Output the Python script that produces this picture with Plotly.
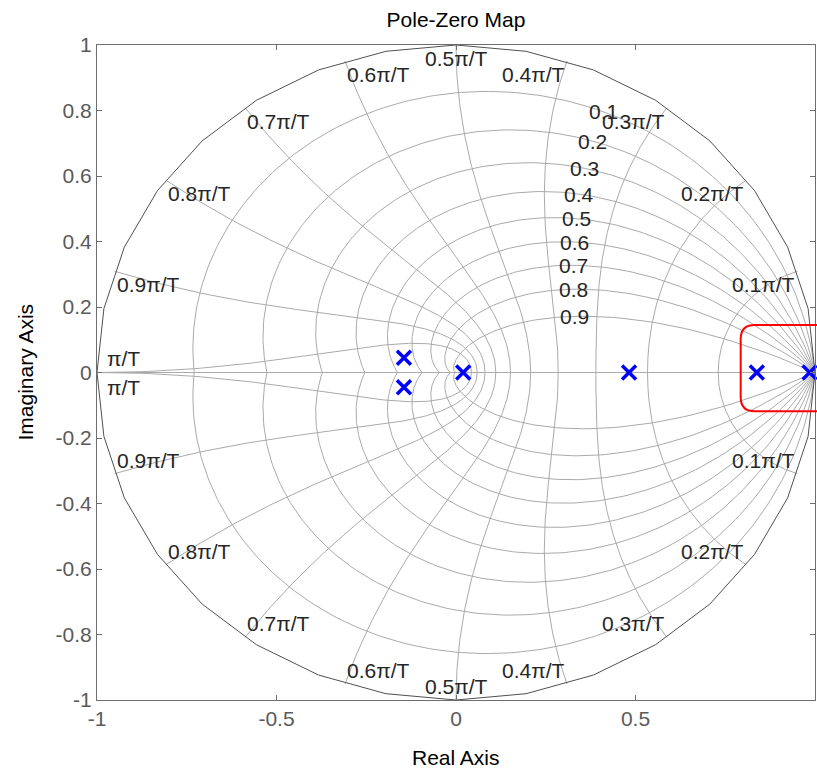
import numpy as np
import plotly.graph_objects as go

# z-plane grid: damping ratios and natural frequencies (multiples of pi/T)
zeta_values = [0.1, 0.2, 0.3, 0.4, 0.5, 0.6, 0.7, 0.8, 0.9]
zeta_labels = ["0.1", "0.2", "0.3", "0.4", "0.5", "0.6", "0.7", "0.8", "0.9"]
wn_fractions = [0.1, 0.2, 0.3, 0.4, 0.5, 0.6, 0.7, 0.8, 0.9, 1.0]
wn_labels = ["0.1π/T", "0.2π/T", "0.3π/T", "0.4π/T", "0.5π/T",
             "0.6π/T", "0.7π/T", "0.8π/T", "0.9π/T", "π/T"]

# Poles of the discrete-time system
pole_real = [-0.145, -0.145, 0.02, 0.482, 0.838, 0.985]
pole_imag = [0.045, -0.045, 0.0, 0.0, 0.0, 0.0]

# Axis ticks
x_ticks = [-1, -0.5, 0, 0.5, 1]
x_tick_text = ["-1", "-0.5", "0", "0.5", "1"]
y_ticks = [-1, -0.8, -0.6, -0.4, -0.2, 0, 0.2, 0.4, 0.6, 0.8, 1]
y_tick_text = ["-1", "-0.8", "-0.6", "-0.4", "-0.2", "0", "0.2", "0.4", "0.6", "0.8", "1"]

# Highlight box around the poles near z = 1 (real / imaginary extents)
box_real = [0.793, 1.06]
box_imag = [-0.118, 0.145]

FONT = "Liberation Sans, Arial, sans-serif"
FS = 21
GRID = "rgb(170,170,170)"
W, H = 817, 771
ML, MR, MT, MB = 97, 2, 45, 71


def append_curve(xs, ys, re, im):
    xs.extend(list(re) + [None])
    ys.extend(list(im) + [None])


gx, gy = [], []
# constant damping-ratio spirals (upper and lower half)
theta = np.linspace(0, np.pi, 181)
for z in zeta_values:
    r = np.exp(-z * theta / np.sqrt(1 - z * z))
    append_curve(gx, gy, r * np.cos(theta), r * np.sin(theta))
    append_curve(gx, gy, r * np.cos(theta), -r * np.sin(theta))
# constant natural-frequency curves
zeta_span = np.linspace(0, 1, 121)
for f in wn_fractions:
    w = f * np.pi
    r = np.exp(-zeta_span * w)
    a = w * np.sqrt(1 - zeta_span ** 2)
    append_curve(gx, gy, r * np.cos(a), r * np.sin(a))
    append_curve(gx, gy, r * np.cos(a), -r * np.sin(a))
# real axis
append_curve(gx, gy, [-1, 1], [0, 0])

# unit circle (zeta = 0)
phi = np.linspace(0, 2 * np.pi, 33)

fig = go.Figure()
fig.add_trace(go.Scatter(x=gx, y=gy, mode="lines", hoverinfo="skip",
                         line=dict(color=GRID, width=1), showlegend=False))
fig.add_trace(go.Scatter(x=np.cos(phi), y=np.sin(phi), mode="lines", hoverinfo="skip",
                         line=dict(color="rgb(80,80,80)", width=1), showlegend=False))
fig.add_trace(go.Scatter(x=pole_real, y=pole_imag, mode="markers", showlegend=False,
                         cliponaxis=False,
                         marker=dict(symbol="x-thin", size=14, color="blue",
                                     line=dict(color="blue", width=3.5))))

ann = []
lab_font = dict(family=FONT, size=FS, color="rgb(38,38,38)")
# damping-ratio labels, on each spiral at wn = 0.35*pi/T
for z, t in zip(zeta_values, zeta_labels):
    w = 0.35 * np.pi
    r = np.exp(-z * w)
    a = w * np.sqrt(1 - z * z)
    ann.append(dict(x=r * np.cos(a), y=r * np.sin(a), text=t, showarrow=False,
                    xanchor="center", yanchor="middle", font=lab_font))
# natural-frequency labels at the unit circle
for f, t in zip(wn_fractions, wn_labels):
    a = f * np.pi
    cx, cy = np.cos(a), np.sin(a)
    if abs(cx) < 1e-6:
        xa = "center"
    elif cx > 0:
        xa = "right"
    else:
        xa = "left"
    if f >= 1.0:
        ann.append(dict(x=-1, y=0, text=t, showarrow=False, xanchor="left",
                        yanchor="bottom", xshift=8, yshift=1, font=lab_font))
        ann.append(dict(x=-1, y=0, text=t, showarrow=False, xanchor="left",
                        yanchor="top", xshift=8, yshift=-1, font=lab_font))
        continue
    ann.append(dict(x=cx, y=cy, text=t, showarrow=False, xanchor=xa,
                    yanchor="top", font=lab_font))
    ann.append(dict(x=cx, y=-cy, text=t, showarrow=False, xanchor=xa,
                    yanchor="bottom", font=lab_font))

# axis titles
ann.append(dict(xref="paper", yref="paper", x=0.5, y=-(757 - (H - MB)) / (H - MT - MB),
                text="Real Axis", showarrow=False, xanchor="center", yanchor="middle",
                font=dict(family=FONT, size=FS, color="black")))
ann.append(dict(xref="paper", yref="paper", x=-(ML - 25) / (W - ML - MR), y=0.5,
                text="Imaginary Axis", showarrow=False, textangle=-90,
                xanchor="center", yanchor="middle",
                font=dict(family=FONT, size=FS, color="black")))


def to_paper_x(v):
    return (v + 1) / 2


def to_paper_y(v):
    return (v + 1) / 2


# rounded highlight rectangle
x0, x1 = to_paper_x(box_real[0]), to_paper_x(box_real[1])
y0, y1 = to_paper_y(box_imag[0]), to_paper_y(box_imag[1])
rx = 14 / (W - ML - MR)
ry = 14 / (H - MT - MB)
path = (f"M {x0 + rx},{y1} L {x1},{y1} M {x1},{y0} L {x0 + rx},{y0} "
        f"Q {x0},{y0} {x0},{y0 + ry} L {x0},{y1 - ry} Q {x0},{y1} {x0 + rx},{y1}")

fig.update_layout(
    width=W, height=H,
    margin=dict(l=ML, r=MR, t=MT, b=MB, pad=0),
    paper_bgcolor="white", plot_bgcolor="white",
    title=dict(text="Pole-Zero Map", x=(456 / W), xanchor="center",
               y=1 - 19.5 / H, yanchor="middle", yref="container",
               font=dict(family=FONT, size=FS, color="black")),
    annotations=ann,
    shapes=[dict(type="path", xref="paper", yref="paper", path=path,
                 line=dict(color="red", width=2))],
    showlegend=False,
)
axis_common = dict(showgrid=False, zeroline=False, showline=True, mirror="allticks",
                   linecolor="rgb(110,110,110)", linewidth=1, ticks="inside",
                   ticklen=5, tickcolor="rgb(110,110,110)",
                   tickfont=dict(family=FONT, size=FS, color="rgb(90,90,90)"))
fig.update_xaxes(range=[-1, 1], tickvals=x_ticks, ticktext=x_tick_text, **axis_common)
fig.update_yaxes(range=[-1, 1], tickvals=y_ticks, ticktext=y_tick_text, **axis_common)

fig.write_html("out.html")
